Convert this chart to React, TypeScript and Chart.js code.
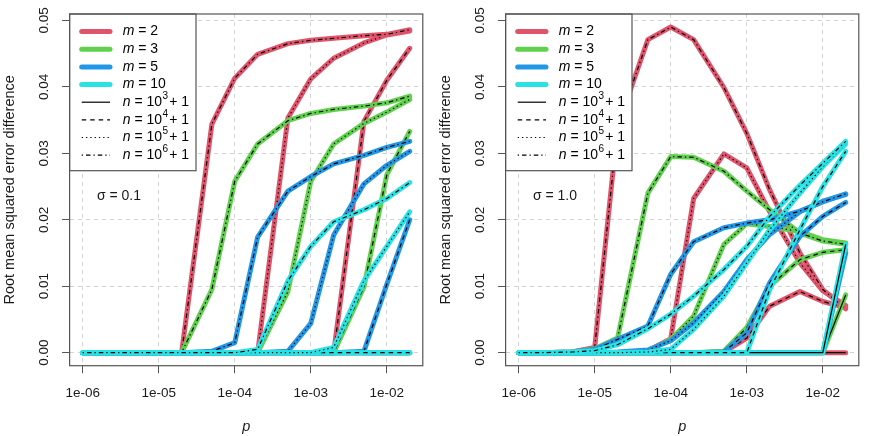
import React, { useEffect, useRef } from 'react';
import { Chart, registerables } from 'chart.js';

Chart.register(...registerables);

// ---------- data ----------
const P_VALUES = [1e-6, 2e-6, 5e-6, 1e-5, 2e-5, 5e-5, 1e-4, 2e-4, 5e-4, 1e-3, 2e-3, 5e-3, 1e-2, 2e-2];
const X_TICKS = [1e-6, 1e-5, 1e-4, 1e-3, 1e-2];
const Y_TICKS = [0, 0.01, 0.02, 0.03, 0.04, 0.05];
const M_LABELS = ['2', '3', '5', '10'];
const N_EXPONENTS = ['3', '4', '5', '6'];
const M_COLORS = ['#DF536B', '#61D04F', '#2297E6', '#28E2E5'];
const N_DASHES: number[][] = [[], [4.5, 4], [1.3, 3], [1.3, 3, 4.5, 3]];

// sigma = 0.1
const S01_M2_N3 = [0, 0, 0, 0, 0, 0, 0, 0, 0, 0, 0, 0, 0, 0];
const S01_M2_N4 = [0, 0, 0, 0, 0, 0, 0, 0, 0, 0, 0, 0.0348, 0.041, 0.0458];
const S01_M2_N5 = [0, 0, 0, 0, 0, 0, 0, 0, 0.0353, 0.0412, 0.0443, 0.0466, 0.0478, 0.0484];
const S01_M2_N6 = [0, 0, 0, 0, 0, 0.0344, 0.0413, 0.0449, 0.0465, 0.047, 0.0473, 0.0477, 0.0479, 0.0486];
const S01_M3_N3 = [0, 0, 0, 0, 0, 0, 0, 0, 0, 0, 0, 0, 0, 0];
const S01_M3_N4 = [0, 0, 0, 0, 0, 0, 0, 0, 0, 0, 0, 0.0099, 0.0268, 0.0333];
const S01_M3_N5 = [0, 0, 0, 0, 0, 0, 0, 0, 0.0092, 0.0258, 0.0314, 0.0345, 0.0362, 0.0381];
const S01_M3_N6 = [0, 0, 0, 0, 0, 0.0095, 0.0258, 0.0314, 0.0349, 0.036, 0.0366, 0.0371, 0.0376, 0.0386];
const S01_M5_N3 = [0, 0, 0, 0, 0, 0, 0, 0, 0, 0, 0, 0, 0, 0];
const S01_M5_N4 = [0, 0, 0, 0, 0, 0, 0, 0, 0, 0, 0, 0.0002, 0.0103, 0.02];
const S01_M5_N5 = [0, 0, 0, 0, 0, 0, 0, 0, 0.0002, 0.0044, 0.0177, 0.0254, 0.0282, 0.0303];
const S01_M5_N6 = [0, 0, 0, 0, 0, 0.0002, 0.0015, 0.0174, 0.0243, 0.0265, 0.0284, 0.0297, 0.0309, 0.0318];
const S01_M10_N3 = [0, 0, 0, 0, 0, 0, 0, 0, 0, 0, 0, 0, 0, 0];
const S01_M10_N4 = [0, 0, 0, 0, 0, 0, 0, 0, 0, 0, 0, 0, 0, 0];
const S01_M10_N5 = [0, 0, 0, 0, 0, 0, 0, 0, 0, 0, 0.0008, 0.0108, 0.016, 0.0212];
const S01_M10_N6 = [0, 0, 0, 0, 0, 0, 0, 0.0005, 0.0108, 0.016, 0.0197, 0.0215, 0.0232, 0.0256];

// sigma = 1.0
const S10_M2_N3 = [0, 0, 0, 0, 0, 0, 0, 0, 0, 0, 0, 0, 0, 0];
const S10_M2_N4 = [0, 0, 0, 0, 0, 0, 0, 0, 0.0001, 0.0022, 0.007, 0.0092, 0.0077, 0.0068];
const S10_M2_N5 = [0, 0, 0, 0, 0, 0.0003, 0.0021, 0.0232, 0.0299, 0.0278, 0.0212, 0.0135, 0.0093, 0.0071];
const S10_M2_N6 = [0, 0, 0.0001, 0.0008, 0.034, 0.0471, 0.049, 0.0471, 0.0399, 0.033, 0.0245, 0.015, 0.0095, 0.0066];
const S10_M3_N3 = [0, 0, 0, 0, 0, 0, 0, 0, 0, 0, 0, 0, 0, 0.0087];
const S10_M3_N4 = [0, 0, 0, 0, 0, 0, 0, 0, 0.0002, 0.0038, 0.01, 0.014, 0.0151, 0.0155];
const S10_M3_N5 = [0, 0, 0, 0, 0, 0.0003, 0.002, 0.0055, 0.0163, 0.0194, 0.019, 0.0182, 0.017, 0.0165];
const S10_M3_N6 = [0, 0, 0.0001, 0.0006, 0.0022, 0.024, 0.0295, 0.0294, 0.0273, 0.0243, 0.0215, 0.018, 0.0168, 0.0163];
const S10_M5_N3 = [0, 0, 0, 0, 0, 0, 0, 0, 0, 0, 0, 0, 0, 0.015];
const S10_M5_N4 = [0, 0, 0, 0, 0, 0, 0, 0, 0.0001, 0.003, 0.0105, 0.0175, 0.0205, 0.0226];
const S10_M5_N5 = [0, 0, 0, 0, 0.0001, 0.0004, 0.0018, 0.0045, 0.0092, 0.014, 0.0178, 0.0212, 0.0228, 0.0238];
const S10_M5_N6 = [0, 0, 0.0001, 0.0005, 0.002, 0.004, 0.0118, 0.0167, 0.0188, 0.0195, 0.02, 0.0213, 0.0227, 0.0239];
const S10_M10_N3 = [0, 0, 0, 0, 0, 0, 0, 0, 0, 0, 0, 0, 0, 0.0163];
const S10_M10_N4 = [0, 0, 0, 0, 0, 0, 0, 0, 0, 0, 0.0095, 0.0185, 0.025, 0.0303];
const S10_M10_N5 = [0, 0, 0, 0, 0, 0.0001, 0.0005, 0.0035, 0.0085, 0.0135, 0.0185, 0.024, 0.028, 0.0314];
const S10_M10_N6 = [0, 0, 0.0001, 0.0003, 0.0012, 0.0036, 0.0058, 0.0085, 0.0125, 0.016, 0.0205, 0.0252, 0.0285, 0.0318];

const PANEL_SIGMA_01 = [
  [S01_M2_N3, S01_M2_N4, S01_M2_N5, S01_M2_N6],
  [S01_M3_N3, S01_M3_N4, S01_M3_N5, S01_M3_N6],
  [S01_M5_N3, S01_M5_N4, S01_M5_N5, S01_M5_N6],
  [S01_M10_N3, S01_M10_N4, S01_M10_N5, S01_M10_N6],
];
const PANEL_SIGMA_10 = [
  [S10_M2_N3, S10_M2_N4, S10_M2_N5, S10_M2_N6],
  [S10_M3_N3, S10_M3_N4, S10_M3_N5, S10_M3_N6],
  [S10_M5_N3, S10_M5_N4, S10_M5_N5, S10_M5_N6],
  [S10_M10_N3, S10_M10_N4, S10_M10_N5, S10_M10_N6],
];

// ---------- styling ----------
const FONT = '"Liberation Sans", Arial, Helvetica, sans-serif';
const TEXT = '#1a1a1a';
const AXIS = '#555555';
const GRID = '#d3d3d3';
const TICK_SIZE = 13.5;
const TITLE_SIZE = 14.5;
const LEGEND_SIZE = 14;

// R-like axis ranges (4% extension)
const allValues = [...PANEL_SIGMA_01.flat(2), ...PANEL_SIGMA_10.flat(2)];
const Y_DATA_MAX = Math.max(...allValues);
const Y_MIN = -0.04 * Y_DATA_MAX;
const Y_MAX = Y_DATA_MAX * 1.04;
const LX0 = Math.log10(P_VALUES[0]);
const LX1 = Math.log10(P_VALUES[P_VALUES.length - 1]);
const X_MIN = Math.pow(10, LX0 - 0.04 * (LX1 - LX0));
const X_MAX = Math.pow(10, LX1 + 0.04 * (LX1 - LX0));

function formatExp(v: number): string {
  const e = Math.round(Math.log10(v));
  return `1e${e < 0 ? '-' : '+'}${String(Math.abs(e)).padStart(2, '0')}`;
}

function buildDatasets(series: number[][][]) {
  const out: any[] = [];
  series.forEach((byN, mi) => {
    byN.forEach((vals, ni) => {
      out.push({
        label: `m${M_LABELS[mi]}-n${N_EXPONENTS[ni]}-col`,
        data: P_VALUES.map((p, k) => ({ x: p, y: vals[k] })),
        borderColor: M_COLORS[mi],
        borderWidth: 5,
        pointRadius: 0,
        borderJoinStyle: 'round',
        borderCapStyle: 'round',
        tension: 0,
        fill: false,
      });
      out.push({
        label: `m${M_LABELS[mi]}-n${N_EXPONENTS[ni]}-blk`,
        data: P_VALUES.map((p, k) => ({ x: p, y: vals[k] })),
        borderColor: '#000000',
        borderWidth: 1.2,
        borderDash: N_DASHES[ni],
        pointRadius: 0,
        borderJoinStyle: 'round',
        tension: 0,
        fill: false,
      });
    });
  });
  const total = out.length;
  out.forEach((d, k) => {
    d.order = total - k;
  });
  return out;
}

type Part = { t: string; italic?: boolean; sup?: boolean; gap?: number };

function drawRich(ctx: CanvasRenderingContext2D, parts: Part[], x: number, y: number) {
  let cx = x;
  for (const p of parts) {
    cx += p.gap || 0;
    ctx.font = `${p.italic ? 'italic ' : ''}${p.sup ? 10 : LEGEND_SIZE}px ${FONT}`;
    ctx.fillText(p.t, cx, p.sup ? y - 6 : y);
    cx += ctx.measureText(p.t).width;
  }
}

function makeDecorPlugin(sigmaText: string) {
  return {
    id: 'panelDecor',
    afterDraw(chart: any) {
      const { ctx, chartArea: a, scales } = chart;
      const xs = scales.x;
      const ys = scales.y;
      ctx.save();

      // y tick labels (rotated, R style)
      ctx.fillStyle = TEXT;
      ctx.font = `${TICK_SIZE}px ${FONT}`;
      ctx.textAlign = 'center';
      ctx.textBaseline = 'middle';
      Y_TICKS.forEach((v) => {
        const py = ys.getPixelForValue(v);
        ctx.save();
        ctx.translate(a.left - 25.6, py);
        ctx.rotate(-Math.PI / 2);
        ctx.fillText(v.toFixed(2), 0, 0);
        ctx.restore();
      });

      // sigma annotation
      ctx.fillStyle = TEXT;
      ctx.font = `${LEGEND_SIZE}px ${FONT}`;
      ctx.fillText(sigmaText, xs.getPixelForValue(3e-6), ys.getPixelForValue(0.0235));

      // legend
      const lx = a.left;
      const ly = a.top;
      const lw = 126.4;
      const lh = 156.7;
      ctx.fillStyle = '#ffffff';
      ctx.fillRect(lx, ly, lw, lh);
      ctx.strokeStyle = AXIS;
      ctx.lineWidth = 1.2;
      ctx.setLineDash([]);
      ctx.strokeRect(lx, ly, lw, lh);

      const rowY = (i: number) => ly + 17.6 + i * 17.65;
      const sx0 = lx + 12.1;
      const sx1 = lx + 40.4;
      const tx = lx + 53.1;
      ctx.textAlign = 'left';
      ctx.textBaseline = 'middle';
      M_LABELS.forEach((m, i) => {
        const yy = rowY(i);
        ctx.beginPath();
        ctx.strokeStyle = M_COLORS[i];
        ctx.lineWidth = 5;
        ctx.lineCap = 'round';
        ctx.setLineDash([]);
        ctx.moveTo(sx0, yy);
        ctx.lineTo(sx1, yy);
        ctx.stroke();
        ctx.fillStyle = '#000';
        drawRich(ctx, [{ t: 'm', italic: true }, { t: ' = ' + m }], tx, yy);
      });
      N_EXPONENTS.forEach((e, j) => {
        const yy = rowY(4 + j);
        ctx.beginPath();
        ctx.strokeStyle = '#000';
        ctx.lineWidth = 1.2;
        ctx.lineCap = 'butt';
        ctx.setLineDash(N_DASHES[j]);
        ctx.moveTo(sx0, yy);
        ctx.lineTo(sx1, yy);
        ctx.stroke();
        ctx.setLineDash([]);
        ctx.fillStyle = '#000';
        drawRich(
          ctx,
          [{ t: 'n', italic: true }, { t: ' = 10' }, { t: e, sup: true, gap: 0.5 }, { t: '+ 1', gap: 1.2 }],
          tx,
          yy
        );
      });

      // plot box
      ctx.strokeStyle = AXIS;
      ctx.lineWidth = 1.2;
      ctx.setLineDash([]);
      ctx.strokeRect(a.left, a.top, a.right - a.left, a.bottom - a.top);
      ctx.restore();
    },
  };
}

function Panel({ series, sigmaText }: { series: number[][][]; sigmaText: string }) {
  const ref = useRef<HTMLCanvasElement | null>(null);
  useEffect(() => {
    if (!ref.current) return;
    const chart = new Chart(ref.current, {
      type: 'line',
      data: { datasets: buildDatasets(series) },
      options: {
        responsive: false,
        animation: false,
        events: [],
        layout: { padding: { top: 14, right: 13.2, left: 0, bottom: 0 } },
        plugins: { legend: { display: false }, tooltip: { enabled: false } },
        scales: {
          x: {
            type: 'logarithmic',
            min: X_MIN,
            max: X_MAX,
            afterBuildTicks: (s: any) => {
              s.ticks = X_TICKS.map((v) => ({ value: v }));
            },
            afterFit: (s: any) => {
              s.height = 70.3;
            },
            ticks: {
              autoSkip: false,
              maxRotation: 0,
              minRotation: 0,
              padding: 11.5,
              color: TEXT,
              font: { family: FONT, size: TICK_SIZE },
              callback: (v: any) => formatExp(Number(v)),
            },
            grid: { color: GRID, lineWidth: 1, drawTicks: true, tickLength: 7.5, tickColor: AXIS, tickWidth: 1 },
            border: { display: false, dash: [4, 4] },
            title: {
              display: true,
              text: 'p',
              color: TEXT,
              font: { family: FONT, size: TITLE_SIZE, style: 'italic' },
              padding: { top: 0, bottom: 0.8 },
            },
          },
          y: {
            type: 'linear',
            min: Y_MIN,
            max: Y_MAX,
            afterBuildTicks: (s: any) => {
              s.ticks = Y_TICKS.map((v) => ({ value: v }));
            },
            afterFit: (s: any) => {
              s.width = 69.6;
            },
            ticks: { display: false },
            grid: { color: GRID, lineWidth: 1, drawTicks: true, tickLength: 7.5, tickColor: AXIS, tickWidth: 1 },
            border: { display: false, dash: [4, 4] },
            title: {
              display: true,
              text: 'Root mean squared error difference',
              color: TEXT,
              font: { family: FONT, size: TITLE_SIZE },
              padding: { top: 1, bottom: 0 },
            },
          },
        },
      },
      plugins: [makeDecorPlugin(sigmaText)],
    } as any);
    return () => chart.destroy();
  }, [series, sigmaText]);
  return <canvas ref={ref} width={436} height={436} style={{ display: 'block', width: 436, height: 436 }} />;
}

export default function App() {
  return (
    <div
      style={{
        position: 'fixed',
        left: 0,
        top: 0,
        width: 872,
        height: 436,
        display: 'flex',
        background: '#ffffff',
      }}
    >
      <Panel series={PANEL_SIGMA_01} sigmaText="σ = 0.1" />
      <Panel series={PANEL_SIGMA_10} sigmaText="σ = 1.0" />
    </div>
  );
}
